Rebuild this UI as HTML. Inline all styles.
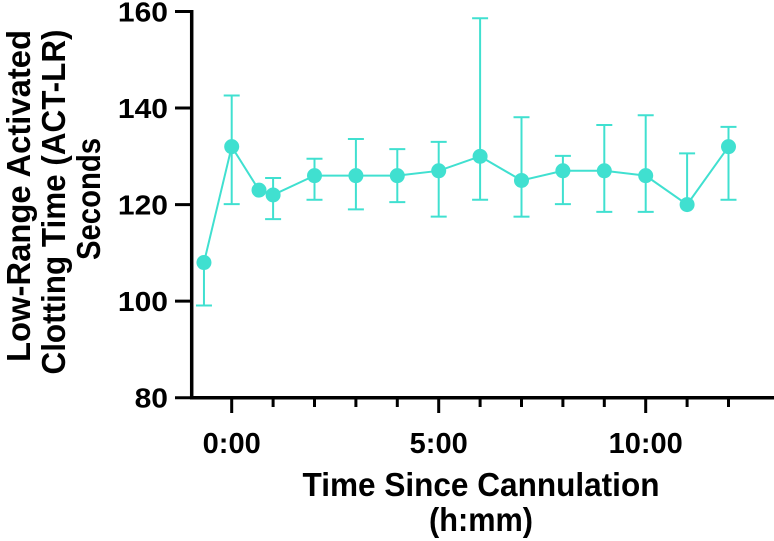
<!DOCTYPE html>
<html><head><meta charset="utf-8"><style>
html,body{margin:0;padding:0;background:#fff;}
svg{display:block;font-family:"Liberation Sans",Arial,sans-serif;font-weight:bold;}
</style></head><body>
<svg id="chart" width="774" height="541" viewBox="0 0 774 541">
<g id="axes"></g>
<g id="series"></g>
<text x="481" y="496" text-anchor="middle" font-size="33" textLength="357" lengthAdjust="spacingAndGlyphs">Time Since Cannulation</text>
<text x="481" y="531" text-anchor="middle" font-size="33" textLength="104" lengthAdjust="spacingAndGlyphs">(h:mm)</text>
<g>
<text transform="translate(30,196) rotate(-90)" text-anchor="middle" font-size="33" textLength="332" lengthAdjust="spacingAndGlyphs">Low-Range Activated</text>
<text transform="translate(65,202) rotate(-90)" text-anchor="middle" font-size="33" textLength="345" lengthAdjust="spacingAndGlyphs">Clotting Time (ACT-LR)</text>
<text transform="translate(100,199) rotate(-90)" text-anchor="middle" font-size="33" textLength="122" lengthAdjust="spacingAndGlyphs">Seconds</text>
</g>
</svg>
<script>
const xHours = [-0.67, 0, 0.66, 1, 2, 3, 4, 5, 6, 7, 8, 9, 10, 11, 12];
const means  = [108, 132, 123, 122, 126, 126, 126, 127, 130, 125, 127, 127, 126, 120, 132];
const errHi  = [null, 142.6, null, 125.5, 129.5, 133.6, 131.5, 133, 158.6, 138.1, 130.1, 136.5, 138.5, 130.6, 136.1];
const errLo  = [99.1, 120.1, null, 117, 121, 119, 120.5, 117.5, 121, 117.5, 120.1, 118.5, 118.5, null, 121];
const yTicks = [80, 100, 120, 140, 160];
const xMajor = [0, 5, 10];
const xMajorLabels = ["0:00", "5:00", "10:00"];
const xMinor = [1, 2, 3, 4, 6, 7, 8, 9, 11, 12];

const NS = "http://www.w3.org/2000/svg";
const X = h => 231.7 + h * 41.4;
const Y = v => 397.7 - (v - 80) * 4.8275;
const COL = "#40E0D0";
function mk(tag, attrs, parent){
  const e = document.createElementNS(NS, tag);
  for (const k in attrs) e.setAttribute(k, attrs[k]);
  parent.appendChild(e); return e;
}
const axes = document.getElementById("axes");
const ser = document.getElementById("series");

const ya = mk("line", {x1:191.7, y1:Y(160)-1.5, x2:191.7, y2:Y(80)+1.5, stroke:"#000","stroke-width":3.5}, axes);


const xa = mk("line", {x1:190, y1:Y(80), x2:774, y2:Y(80), stroke:"#000","stroke-width":3.5}, axes);


yTicks.forEach(v => {
  const t = mk("line", {x1:175, y1:Y(v), x2:192, y2:Y(v), stroke:"#000","stroke-width":3}, axes);
  
  
  const s = String(v);
  const l = mk("text", {x:168, y:Y(v)+10, "text-anchor":"end", "font-size":28, textLength:s.length*16.7, lengthAdjust:"spacingAndGlyphs"}, axes);
  l.textContent = s;
  
  
});
xMajor.forEach((h, i) => {
  const t = mk("line", {x1:X(h), y1:Y(80), x2:X(h), y2:413, stroke:"#000","stroke-width":3}, axes);
  
  
  const l = mk("text", {x:X(h), y:453, "text-anchor":"middle", "font-size":29}, axes);
  l.textContent = xMajorLabels[i];
  
  
});
xMinor.forEach(h => {
  const t = mk("line", {x1:X(h), y1:Y(80), x2:X(h), y2:407, stroke:"#000","stroke-width":3}, axes);
  
  
});

xHours.forEach((h, i) => {
  const top = errHi[i] != null ? errHi[i] : means[i];
  const bot = errLo[i] != null ? errLo[i] : means[i];
  if (top === bot) return;
  const g = mk("g", {stroke:COL, "stroke-width":2, fill:"none"}, ser);
  
  
  mk("line", {x1:X(h), y1:Y(top), x2:X(h), y2:Y(bot)}, g);
  if (errHi[i] != null) mk("line", {x1:X(h)-8, y1:Y(top), x2:X(h)+8, y2:Y(top)}, g);
  if (errLo[i] != null) mk("line", {x1:X(h)-8, y1:Y(bot), x2:X(h)+8, y2:Y(bot)}, g);
});
const pl = mk("polyline", {points: xHours.map((h,i)=>X(h)+","+Y(means[i])).join(" "), fill:"none", stroke:COL, "stroke-width":2}, ser);


xHours.forEach((h, i) => {
  const c = mk("circle", {cx:X(h), cy:Y(means[i]), r:7.5, fill:COL}, ser);
  
  
});
</script>
</body></html>
